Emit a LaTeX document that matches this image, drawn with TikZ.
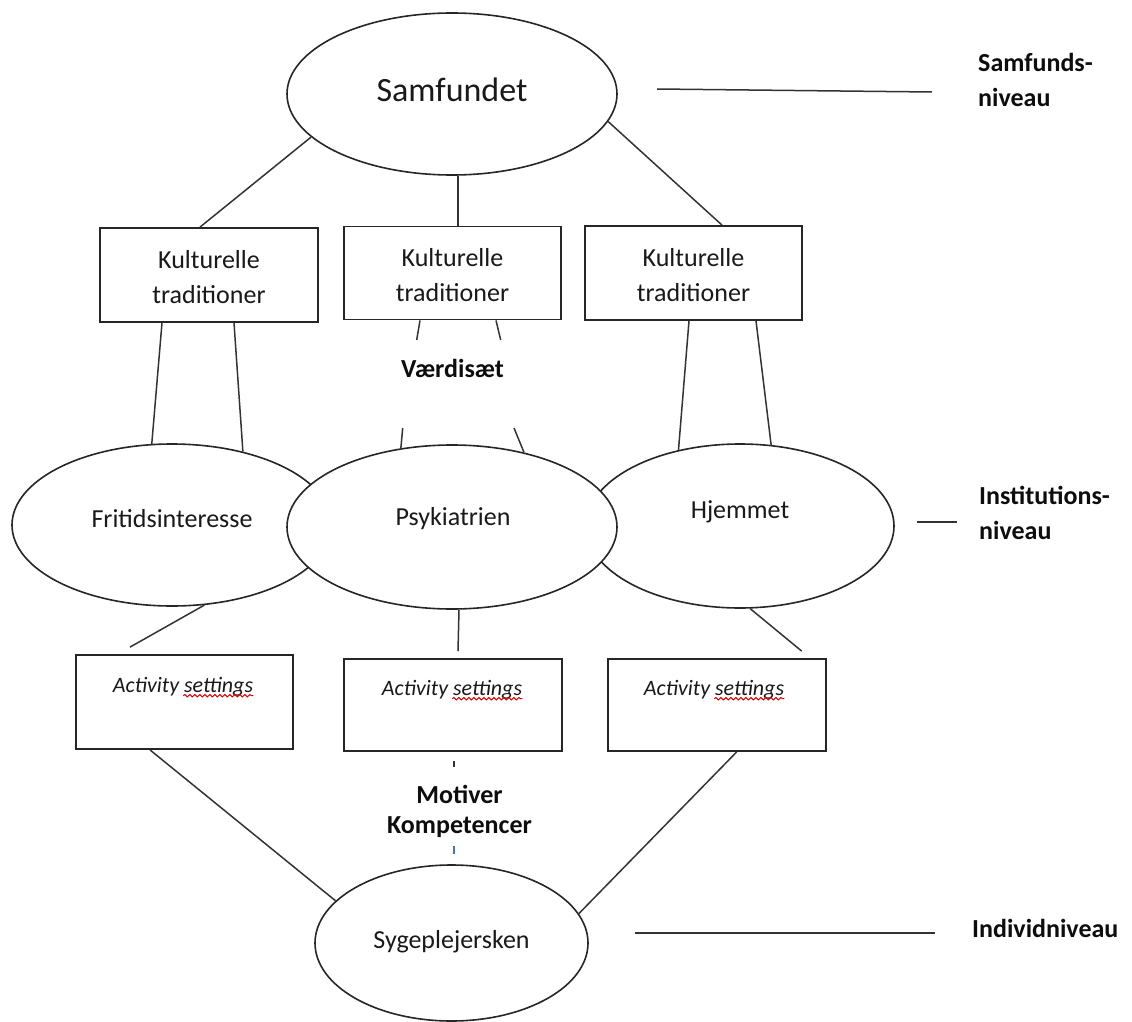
\documentclass[tikz,border=0pt]{standalone}
\usepackage{fontspec}
\setmainfont{Carlito}
\usetikzlibrary{shapes.geometric,decorations.pathmorphing,calc}
\definecolor{wordblue}{RGB}{68,114,196}
\tikzset{
  oval/.style={draw=black!85, line width=1.6pt, ellipse, fill=white, inner sep=0pt},
  rbox/.style={draw=black!85, line width=1.8pt, fill=white, inner sep=0pt},
  txt/.style={font=\fontsize{26}{35}\selectfont, text=black!90, align=center, inner sep=0pt},
  boldtxt/.style={font=\fontsize{26}{35}\selectfont\bfseries, text=black!95, align=left, inner sep=0pt},
  conn/.style={draw=black!80, line width=1.5pt},
  act/.style={font=\fontsize{22}{26}\selectfont\itshape, text=black!90, inner sep=0pt},
  squiggle/.style={draw=red!85!black, line width=1pt, decorate, decoration={snake, amplitude=1.2pt, segment length=5pt}},
}
\begin{document}
\begin{tikzpicture}[x=1pt,y=-1pt]
\useasboundingbox (0,0) rectangle (1132,1022);

% Samfundet
\node[oval, minimum width=330, minimum height=162] (samf) at (452,94) {};
\node[txt, font=\fontsize{34}{40}\selectfont] (samft) at (452,90) {Samfundet};

% Kulturelle traditioner boxes
\node[rbox, minimum width=218, minimum height=94] (k1) at (209,275) {};
\node[txt] (k1t) at (209,277) {Kulturelle\\traditioner};
\node[rbox, minimum width=217, minimum height=93] (k2) at (452.5,273) {};
\node[txt] (k2t) at (452.5,275) {Kulturelle\\traditioner};
\node[rbox, minimum width=217, minimum height=94] (k3) at (693.5,273) {};
\node[txt] (k3t) at (693.5,275) {Kulturelle\\traditioner};

\draw[conn] (samf.197) -- ([xshift=-9]k1.north);
\draw[conn] ([xshift=6]samf.south) -- ([xshift=5.5]k2.north);
\draw[conn] (samf.-10) -- ([xshift=28.5]k3.north);

% Institution ellipses
\node[oval, minimum width=320, minimum height=162] (fr) at (172,525) {};
\node[oval, minimum width=308, minimum height=164] (hj) at (740,526) {};
\node[oval, minimum width=330, minimum height=164] (ps) at (452,527) {};
\node[txt] (frt) at (172,519) {Fritidsinteresse};
\node[txt] (pst) at (453,519) {Psykiatrien};
\node[txt] (hjt) at (740,512) {Hjemmet};

\draw[conn] ([xshift=-47]k1.south) -- (fr.104);
\draw[conn] ([xshift=25]k1.south) -- (fr.46);
\draw[conn] ([xshift=-4.5]k3.south) -- (hj.129);
\draw[conn] ([xshift=62.5]k3.south) -- (hj.69);

% Vaerdisaet
\node[boldtxt] (vs) at (452.5,368) {Værdisæt};
\coordinate (v1) at (416.7,340);
\coordinate (v2) at (500.7,340);
\coordinate (v3) at (402.7,428);
\coordinate (v4) at (514,428);
\draw[conn] ([xshift=-32.5]k2.south) -- (v1);
\draw[conn] ([xshift=43.5]k2.south) -- (v2);
\draw[conn] (v3) -- (ps.123);
\draw[conn] (v4) -- (ps.46.6);

% Activity settings boxes
\node[rbox, minimum width=217, minimum height=94] (a1) at (184.5,702) {};
\node[rbox, minimum width=218, minimum height=92] (a2) at (453,705) {};
\node[rbox, minimum width=218, minimum height=92] (a3) at (716.7,705) {};
\node[act] (a1t) at (183,687) {Activity settings};
\node[act] (a2t) at (452,690) {Activity settings};
\node[act] (a3t) at (714,690) {Activity settings};
\draw[squiggle] ([xshift=-70,yshift=-3]a1t.base east) -- ([yshift=-3]a1t.base east);
\draw[squiggle] ([xshift=-70,yshift=-3]a2t.base east) -- ([yshift=-3]a2t.base east);
\draw[squiggle] ([xshift=-70,yshift=-3]a3t.base east) -- ([yshift=-3]a3t.base east);

\draw[conn] (fr.-68) -- ([xshift=-54.5,yshift=7]a1.north);
\draw[conn] ([xshift=7]ps.south) -- ([xshift=5,yshift=7]a2.north);
\draw[conn] (hj.-83) -- ([xshift=85,yshift=7]a3.north);

% Sygeplejersken
\node[oval, minimum width=273, minimum height=156] (syg) at (451.5,943) {};
\node[txt] (sygt) at (451.5,942) {Sygeplejersken};

\draw[conn] ([xshift=-34.5]a1.south) -- (syg.160);
\draw[conn] ([xshift=20]a3.south) -- (syg.13.7);

% Motiver Kompetencer
\node[boldtxt, align=center, font=\fontsize{26}{30}\selectfont\bfseries] (mk) at (459.5,811) {Motiver\\Kompetencer};
\coordinate (m1) at (454,767);
\draw[draw=black!80, line width=1.2pt] ([xshift=1,yshift=-9]a2.south) -- (m1);
\coordinate (m2) at (454,846);
\draw[draw=wordblue, line width=1.2pt] (m2) -- ([xshift=2.5,yshift=10]syg.north);

% Level labels
\node[boldtxt, anchor=west] (lab1) at (978,80) {Samfunds-\\niveau};
\node[boldtxt, anchor=west] (lab2) at (979,513) {Institutions-\\niveau};
\node[boldtxt, anchor=west] (lab3) at (972,928) {Individniveau};

\coordinate (s1) at (657,89);
\draw[conn] (s1) -- ([xshift=-46,yshift=-12]lab1.west);
\coordinate (s2) at (917,522);
\draw[conn] (s2) -- ([xshift=-22,yshift=-9]lab2.west);
\coordinate (s3) at (635,933);
\draw[conn] (s3) -- ([xshift=-37,yshift=-5]lab3.west);
\end{tikzpicture}
\end{document}
